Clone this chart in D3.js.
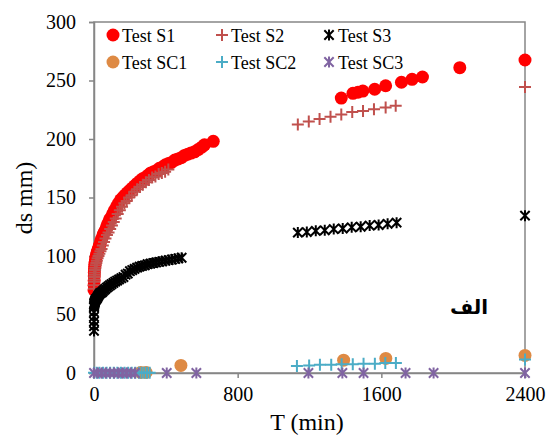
<!DOCTYPE html>
<html><head><meta charset="utf-8">
<script src="https://cdn.jsdelivr.net/npm/d3@7"></script>
<style>
html,body{margin:0;padding:0;background:#fff;}
svg{display:block;}
</style></head>
<body>
<svg id="chart" width="547" height="439"></svg>
<script>
// ---------- DATA ----------
const xTicks = [0, 800, 1600, 2400];
const yTicks = [0, 50, 100, 150, 200, 250, 300];
const seriesNames = ["Test S1", "Test S2", "Test S3", "Test SC1", "Test SC2", "Test SC3"];

const s1T = [0,0.5,1,1.5,2,3,4,5,7,9,11,14,17,20,24,28,33,38,44,50,56,63,70,78,86,95,104,114,125,136,148,160,172,185,198,212,226,240,255,270,285,300,316,332,348,364,381,398,415,432,450,468,486,504,522,540,560,580,600,615,664,
  1377,1442,1470,1497,1563,1624,1712,1771,1829,2037,2400];
const s1V = [71,75,79,83,86,89,91,93,95,97,99,101,103,104,106,108,110,113,115,118,120,122,125,128,131,133,136,139,142,145,148,150,152,154,156,158,160,162,164,166,167,169,171,172,173,175,176,178,179,180,182,183,184,186,187,188,189,191,193,195,198,
  235,239,240,241,242.5,245.5,248.5,251,253,261,267.5];

const s2T = [0,0.5,1,1.5,2,3,4,6,8,10,13,16,20,25,30,36,42,49,56,64,72,81,90,100,110,121,132,144,156,169,182,196,210,225,240,256,272,289,306,324,342,360,378,396,414,
  1135,1196,1256,1317,1377,1438,1498,1559,1624,1680,2400];
const s2V = [72,75,78,80,82,84,86,88,90,92,94,96,98,100,102,104,106,109,112,115,118,120,123,126,129,132,136,139,142,145,147,150,152,155,157,159,161,163,165,167,168,170,171,172,174,
  212.5,215,217,219,221,223,224,225.5,227,228.5,244.5];

const s3T = [0,0,0,0,0,0,0.5,1,1.5,2,3,4,5,7,9,11,14,17,20,24,28,33,38,44,50,57,64,72,80,89,98,108,118,129,140,152,164,176,188,200,213,226,240,254,268,283,298,314,330,346,363,380,398,416,434,452,470,488,
  1135,1185,1235,1285,1335,1385,1435,1485,1535,1585,1635,1685,2400];
const s3V = [36,40,44,48,52,56,57,58,59,59.5,60,60.5,61,62,62.5,63,63.5,64,65,66,67,68,68.5,69,70,71,72,73,74,75,76,77,78,79,80,81,82,84,85,87,88,89,90,91,91.5,92,93,93.5,94,94.5,95,95.5,96,96.5,97,97.5,98,98.5,
  120,120.5,121.5,122,123,123.5,124.5,125,126,126.5,127.5,128.5,134.5];

const sc1T = [260,290,484,1390,1625,2400];
const sc1V = [0.5,0.5,6.5,11,12.5,15];

const sc2T = [0,15,30,50,70,90,110,130,150,170,190,210,230,250,265,280,295,310,
  1130,1198,1258,1321,1379,1441,1501,1564,1622,1681,2400];
const sc2V = [0.3,0.3,0.3,0.3,0.3,0.3,0.3,0.3,0.3,0.3,0.3,0.3,0.3,0.3,0.3,0.3,0.3,0.3,
  6,6.5,7,7,7.5,7.5,8,8,8.5,8.5,11.5];

const sc3T = [0,20,43,65,89,112,136,160,182,205,228,405,570,1194,1383,1501,1735,1891,2400];
const sc3V = [0,0,0,0,0,0,0,0,0,0,0,0,0,0,0,0,0,0,0];

// ---------- STYLE ----------
const styles = [
  {shape:"circle", color:"#FF0000", size:6.5},
  {shape:"plus",   color:"#C0504D", size:6},
  {shape:"star",   color:"#000000", size:5.5},
  {shape:"circle", color:"#DE8A44", size:6.5},
  {shape:"plus",   color:"#4BACC6", size:6},
  {shape:"star",   color:"#8064A2", size:5.5}
];
const seriesT = [s1T, s2T, s3T, sc1T, sc2T, sc3T];
const seriesV = [s1V, s2V, s3V, sc1V, sc2V, sc3V];

const svg = d3.select("#chart");
const L = 94, R = 525, T = 22, B = 373;
const x = d3.scaleLinear().domain([0, 2400]).range([L, R]);
const y = d3.scaleLinear().domain([0, 300]).range([B, T]);
const axisColor = "#868686";
const serif = "'Liberation Serif','Times New Roman',serif";

function drawMarker(g, st, cx, cy) {
  const s = st.size;
  if (st.shape === "circle") {
    g.append("circle").attr("cx", cx).attr("cy", cy).attr("r", s).attr("fill", st.color);
  } else if (st.shape === "plus") {
    g.append("path").attr("d", `M${cx-s},${cy}H${cx+s}M${cx},${cy-s}V${cy+s}`)
      .attr("stroke", st.color).attr("stroke-width", 2).attr("fill", "none");
  } else {
    const d = s * 0.85;
    g.append("path").attr("d", `M${cx-d},${cy-d}L${cx+d},${cy+d}M${cx-d},${cy+d}L${cx+d},${cy-d}M${cx},${cy-s}V${cy+s}`)
      .attr("stroke", st.color).attr("stroke-width", 2).attr("fill", "none");
  }
}

// frame
svg.append("rect").attr("x", L).attr("y", T).attr("width", R - L).attr("height", B - T)
  .attr("fill", "none").attr("stroke", axisColor).attr("stroke-width", 1.5);

// axes
const yAxis = svg.append("g").attr("transform", `translate(${L},0)`)
  .call(d3.axisLeft(y).tickValues(yTicks).tickSize(5).tickPadding(13).tickFormat(d3.format("d")));
const xAxis = svg.append("g").attr("transform", `translate(0,${B})`)
  .call(d3.axisBottom(x).tickValues(xTicks).tickSize(5).tickPadding(9).tickFormat(d3.format("d")));
[yAxis, xAxis].forEach(a => {
  a.select(".domain").attr("stroke", axisColor).attr("stroke-width", 1.5);
  a.selectAll(".tick line").attr("stroke", axisColor).attr("stroke-width", 1.5);
  a.selectAll(".tick text").attr("fill", "#000").style("font-family", serif).style("font-size", "20px");
});

// data
seriesT.forEach((ts, i) => {
  const g = svg.append("g");
  ts.forEach((t, j) => drawMarker(g, styles[i], x(t), y(seriesV[i][j])));
});

// legend
const legX = [113, 222, 329], legY = [35, 62];
seriesNames.forEach((name, i) => {
  const col = i % 3, row = Math.floor(i / 3);
  const g = svg.append("g");
  drawMarker(g, styles[i], legX[col], legY[row]);
  g.append("text").attr("x", legX[col] + 9).attr("y", legY[row] + 6.5)
    .style("font-family", serif).style("font-size", "18px").attr("fill", "#000").text(name);
});

// axis titles
svg.append("text").attr("x", 307).attr("y", 430).attr("text-anchor", "middle")
  .style("font-family", serif).style("font-size", "24px").text("T (min)");
svg.append("text").attr("transform", "translate(32,198) rotate(-90)").attr("text-anchor", "middle")
  .style("font-family", serif).style("font-size", "24px").text("ds mm)");

// annotation
svg.append("text").attr("x", 469).attr("y", 314).attr("text-anchor", "middle")
  .style("font-family", "'DejaVu Sans',sans-serif").style("font-weight", "bold").style("font-size", "20px")
  .attr("direction", "rtl").text("الف");
</script>
</body></html>
